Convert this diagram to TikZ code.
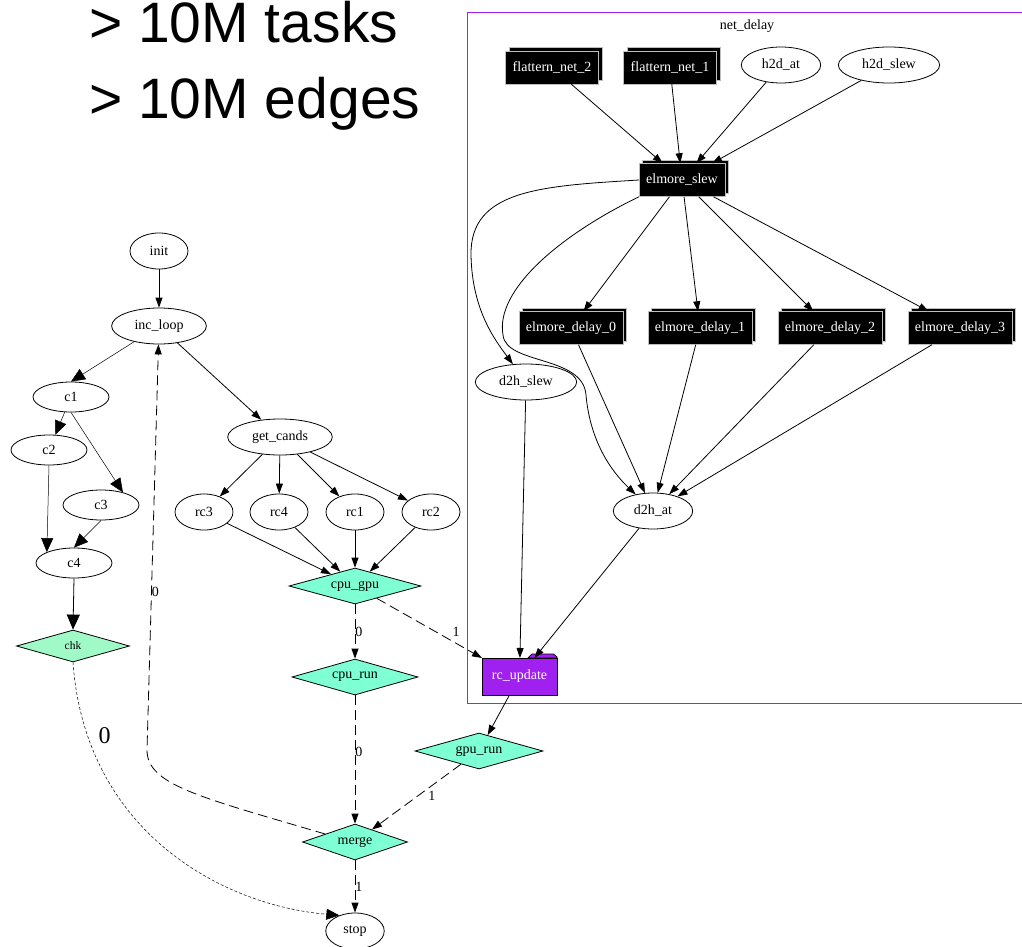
\documentclass[tikz,border=0pt]{standalone}
\usepackage{fontspec}
\setmainfont{Liberation Serif}
\newfontfamily\headfont{Liberation Sans}
\usetikzlibrary{shapes.geometric, arrows.meta, shadows}

\definecolor{aqua}{RGB}{127,255,212}
\definecolor{chkgreen}{RGB}{160,250,200}
\definecolor{grape}{RGB}{160,32,240}

\begin{document}
\begin{tikzpicture}[x=1pt, y=-1pt,
  every node/.style={font=\fontsize{14}{16}\selectfont},
  head/.style={anchor=base west, inner sep=0pt, font=\headfont\fontsize{57}{62}\selectfont},
  oval/.style={ellipse, draw, line width=0.8pt, inner xsep=9pt, inner ysep=1pt, minimum height=36pt},
  smalloval/.style={ellipse, draw, line width=0.8pt, inner sep=0pt, minimum width=76pt, minimum height=30pt},
  task3d/.style={rectangle, fill=black, draw=gray!50, line width=0.5pt, text=white,
    inner xsep=7pt, minimum height=33pt,
    general shadow={fill=black, draw=gray!50, line width=0.5pt, shadow xshift=3.5pt, shadow yshift=3.5pt}},
  cond/.style={diamond, draw, line width=0.8pt, fill=aqua, inner sep=0pt, aspect=3.6, minimum height=36pt},
  folder/.style={rectangle, draw, line width=0.8pt, fill=grape, text=white, outer sep=0pt,
    minimum width=75pt, minimum height=37pt},
  flow/.style={line width=0.8pt, -{Triangle[length=10pt,width=7pt]}},
  dflow/.style={flow, dash pattern=on 10pt off 5pt},
  thinflow/.style={line width=0.5pt, -{Triangle[length=14pt,width=12pt]}},
  bigflow/.style={line width=0.8pt, -{Triangle[length=15pt,width=13pt]}},
  lbl/.style={inner sep=0pt, font=\fontsize{14}{16}\selectfont}
]
\useasboundingbox (0,0) rectangle (1022,947);

% headline figures
\node[head] (tasks) at (89,43) {> 10M tasks};
\node[head] (edges) at (89,118) {> 10M edges};

% net_delay cluster frame
\draw[grape, line width=0.8pt] (1022,12) -- (467,12) -- (467,703) -- (1022,703);
\node (ndlabel) at (747,26) {net\_delay};

% cluster tasks
\node[task3d] (fn2) at (552,67.5) {flattern\_net\_2};
\node[task3d] (fn1) at (670,67.5) {flattern\_net\_1};
\node[oval] (h2dat) at (781,65) {h2d\_at};
\node[oval] (h2dslew) at (889,65) {h2d\_slew};
\node[task3d] (eslew) at (682,180) {elmore\_slew};
\node[task3d] (ed0) at (571,328) {elmore\_delay\_0};
\node[task3d] (ed1) at (700,328) {elmore\_delay\_1};
\node[task3d] (ed2) at (830,328) {elmore\_delay\_2};
\node[task3d] (ed3) at (960,328) {elmore\_delay\_3};
\node[oval] (d2hslew) at (526,382) {d2h\_slew};
\node[oval] (d2hat) at (653,511) {d2h\_at};
\node[folder] (rcu) at (519.5,676.5) {rc\_update};
% folder tab
\draw[line width=0.8pt, fill=grape] ([xshift=8.5pt]rcu.north) -- ([xshift=12.5pt,yshift=4pt]rcu.north)
  -- ([xshift=-3.5pt,yshift=4pt]rcu.north east) -- ([yshift=1pt]rcu.north east) -- (rcu.north east) -- cycle;

% main flow
\node[oval, minimum width=58pt] (init) at (159,251) {init};
\node[oval] (incloop) at (159,326) {inc\_loop};
\node[smalloval] (c1) at (71,397) {c1};
\node[smalloval] (c2) at (49,450) {c2};
\node[smalloval] (c3) at (101,505) {c3};
\node[smalloval] (c4) at (74,563) {c4};
\node[cond, fill=chkgreen, minimum width=113pt, minimum height=32pt, font=\fontsize{11.5}{13}\selectfont] (chk) at (73,646) {chk};
\node[oval] (getcands) at (280,437) {get\_cands};
\node[oval, minimum width=58pt] (rc3) at (204,512) {rc3};
\node[oval, minimum width=58pt] (rc4) at (279,512) {rc4};
\node[oval, minimum width=58pt] (rc1) at (355,512) {rc1};
\node[oval, minimum width=58pt] (rc2) at (431,512) {rc2};
\node[cond, minimum width=132pt] (cpugpu) at (355,586) {cpu\_gpu};
\node[cond, minimum width=126pt] (cpurun) at (355,677) {cpu\_run};
\node[cond, minimum width=128pt] (gpurun) at (479,751) {gpu\_run};
\node[cond, minimum width=105pt] (merge) at (355,842) {merge};
\node[oval, minimum width=58pt] (stop) at (355,931) {stop};

% cluster edges
\draw[flow] (fn2) -- (eslew);
\draw[flow] (fn1) -- (eslew);
\draw[flow] (h2dat) -- (eslew);
\draw[flow] (h2dslew) -- (eslew);
\draw[flow] (eslew) -- (ed0);
\draw[flow] (eslew) -- (ed1);
\draw[flow] (eslew) -- (ed2);
\draw[flow] (eslew) -- (ed3);
\draw[flow] (eslew.west) .. controls (540,186) and (470,190) .. (471,255)
  .. controls (472,310) and (495,340) .. (d2hslew);
\draw[flow] (eslew.south west) .. controls (560,235) and (495,290) .. (503,335)
  .. controls (506,365) and (583,355) .. (586,395)
  .. controls (590,440) and (610,470) .. (d2hat);
\draw[flow] (ed0) -- (d2hat);
\draw[flow] (ed1) -- (d2hat);
\draw[flow] (ed2) -- (d2hat);
\draw[flow] (ed3) -- (d2hat);
\draw[flow] (d2hslew) -- (rcu);
\draw[flow] (d2hat) -- (rcu);

% main edges
\draw[flow] (init) -- (incloop);
\draw[thinflow] (incloop) -- (c1.north);
\draw[flow] (incloop) -- (getcands);
\draw[thinflow] (c1) -- (c2);
\draw[thinflow] (c1.south) -- (c3.30);
\draw[thinflow] (c2.south) -- (c4.north west);
\draw[thinflow] (c3.south) -- (c4.north);
\draw[bigflow] (c4.south) -- (chk.north);
\draw[line width=0.5pt, dash pattern=on 3pt off 2pt, -{Triangle[length=13pt,width=11pt]}]
  (chk.south) .. controls (85,830) and (220,905) ..
  node[pos=0.16, xshift=17pt, inner sep=0pt, font=\fontsize{24}{26}\selectfont] {0} (stop.135);
\draw[flow] (getcands) -- (rc3);
\draw[flow] (getcands) -- (rc4);
\draw[flow] (getcands) -- (rc1);
\draw[flow] (getcands) -- (rc2);
\draw[flow] (rc3) -- (cpugpu);
\draw[flow] (rc4) -- (cpugpu);
\draw[flow] (rc1) -- (cpugpu);
\draw[flow] (rc2) -- (cpugpu);
\draw[dflow] (cpugpu) -- node[lbl, pos=0.5, right] {0} (cpurun);
\draw[dflow] (cpugpu) -- node[lbl, pos=0.755, yshift=12pt] {1} (rcu.north west);
\draw[dflow] (cpurun) -- node[lbl, pos=0.44, right] {0} (merge);
\draw[flow] (rcu) -- (gpurun);
\draw[dflow] (gpurun) -- node[lbl, pos=0.485, xshift=14pt] {1} (merge);
\draw[dflow] (merge.165) .. controls (200,797) and (147,785) .. (147,750)
  -- node[lbl, pos=0.39, right] {0} (incloop);
\draw[dflow] (merge) -- node[lbl, pos=0.51, right] {1} (stop);
\end{tikzpicture}
\end{document}
